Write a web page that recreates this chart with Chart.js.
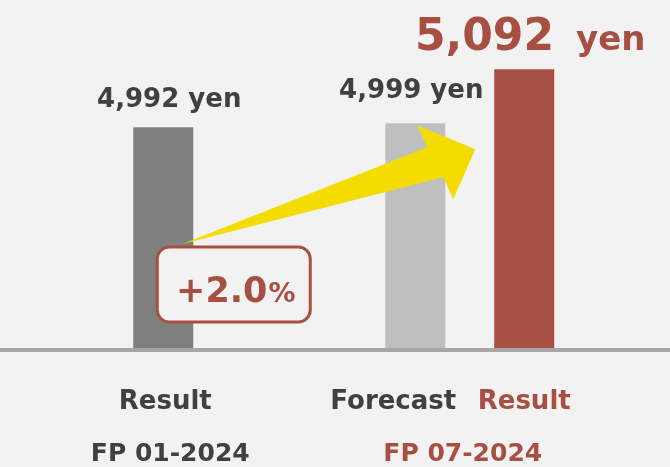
<!DOCTYPE html>
<html>
<head>
<meta charset="utf-8">
<script src="https://cdn.jsdelivr.net/npm/chart.js@4/dist/chart.umd.min.js"></script>
<style>
  html, body { margin: 0; padding: 0; background: #f2f2f2; }
  canvas { display: block; }
</style>
</head>
<body>
<canvas id="dividend" width="670" height="467"></canvas>
<script>
// data
var periods = ['FP 01-2024', 'FP 07-2024'];
var forecastValues = [null, 4999];
var resultValues = [4992, 5092];
var barNames = [['', 'Forecast'], ['Result', 'Result']]; // [dataset][period]

var DARK = '#404040';
var RED = '#a84f43';
var FONT = '"DejaVu Sans", Verdana, sans-serif';

function fmt(v) {
    return v.toLocaleString('en-US');
}

var decor = {
    id: 'decor',
    beforeDatasetsDraw: function (chart) {
        var c = chart.ctx, a = chart.chartArea;
        c.save();
        c.fillStyle = '#a6a6a6';
        c.fillRect(0, a.bottom, chart.width, 4);
        c.restore();
    },
    afterDatasetsDraw: function (chart) {
        var c = chart.ctx;
        var fc = chart.getDatasetMeta(0).data;
        var rs = chart.getDatasetMeta(1).data;
        var b1 = rs[0], b2 = fc[1], b3 = rs[1];
        var x = chart.scales.x;
        var floor = chart.chartArea.bottom;

        c.save();

        // yellow arrow from the first result to the new one
        var tx = b3.x - 49, ty = b3.y + 80;
        c.fillStyle = '#f4dc00';
        c.beginPath();
        c.moveTo(b1.x + 19, floor - 104);
        c.lineTo(tx - 32, ty + 28);
        c.lineTo(tx - 22, ty + 50);
        c.lineTo(tx, ty);
        c.lineTo(tx - 58, ty - 24);
        c.lineTo(tx - 48, ty - 2);
        c.closePath();
        c.fill();

        // change box
        var bx = b1.x - 6, by = floor - 101, bw = 153, bh = 75;
        c.fillStyle = '#f2f2f2';
        c.strokeStyle = RED;
        c.lineWidth = 3;
        c.beginPath();
        c.roundRect(bx, by, bw, bh, 12);
        c.fill();
        c.stroke();

        var pct = (resultValues[1] - resultValues[0]) / resultValues[0] * 100;
        var main = '+' + pct.toFixed(1);
        c.fillStyle = RED;
        c.textBaseline = 'alphabetic';
        c.textAlign = 'left';
        c.font = 'bold 35px ' + FONT;
        var w1 = c.measureText(main).width;
        c.font = 'bold 27px ' + FONT;
        var w2 = c.measureText('%').width;
        var sx = bx + bw / 2 + 2 - (w1 + w2 + 1) / 2;
        c.font = 'bold 35px ' + FONT;
        c.fillText(main, sx, by + 55);
        c.font = 'bold 27px ' + FONT;
        c.fillText('%', sx + w1 + 1, by + 55);

        // value labels above bars
        c.fillStyle = DARK;
        c.textAlign = 'center';
        c.font = 'bold 26px ' + FONT;
        c.fillText(fmt(resultValues[0]) + ' yen', b1.x + 6, b1.y - 20);
        c.fillText(fmt(forecastValues[1]) + ' yen', b2.x - 4, b2.y - 25);

        c.fillStyle = RED;
        c.textAlign = 'left';
        var big = fmt(resultValues[1]);
        c.font = 'bold 44px ' + FONT;
        var wb = c.measureText(big).width;
        c.font = 'bold 34px ' + FONT;
        var wy = c.measureText('yen').width;
        var lx = b3.x + 6 - (wb + 22 + wy) / 2;
        c.font = 'bold 44px ' + FONT;
        c.fillText(big, lx, b3.y - 19);
        c.font = 'bold 34px ' + FONT;
        c.fillText('yen', lx + wb + 22, b3.y - 19);

        // names under bars
        c.textAlign = 'center';
        c.font = 'bold 26px ' + FONT;
        var row1 = floor + 61;
        c.fillStyle = DARK;
        c.fillText(barNames[1][0], b1.x + 2, row1);
        c.fillText(barNames[0][1], b2.x - 22, row1);
        c.fillStyle = RED;
        c.fillText(barNames[1][1], b3.x, row1);

        // period labels
        var row2 = floor + 113;
        c.font = 'bold 25px ' + FONT;
        c.fillStyle = DARK;
        c.fillText(periods[0], x.getPixelForValue(0) + 7, row2);
        c.fillStyle = RED;
        c.fillText(periods[1], x.getPixelForValue(1) - 7, row2);

        c.restore();
    }
};

var ctx = document.getElementById('dividend').getContext('2d');
var chart = new Chart(ctx, {
    type: 'bar',
    data: {
        labels: periods,
        datasets: [{
            label: 'Forecast',
            data: forecastValues,
            backgroundColor: '#bfbfbf'
        }, {
            label: 'Result',
            data: resultValues,
            backgroundColor: ['#7f7f7f', RED]
        }]
    },
    options: {
        responsive: false,
        animation: false,
        layout: { padding: { left: 10, right: 47, top: 0, bottom: 119 } },
        datasets: {
            bar: {
                categoryPercentage: 0.711,
                barPercentage: 0.5505,
                maxBarThickness: 60,
                skipNull: true
            }
        },
        scales: {
            x: { display: false },
            y: { display: false, min: 4610, max: 5212 }
        },
        plugins: {
            legend: { display: false },
            tooltip: { enabled: false }
        }
    },
    plugins: [decor]
});
</script>
</body>
</html>
